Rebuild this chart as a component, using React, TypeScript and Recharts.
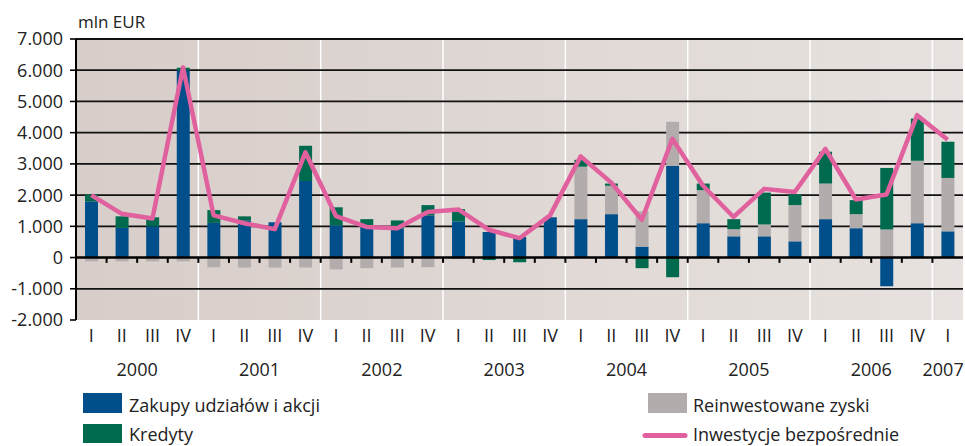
import React from 'react';
import { ComposedChart, Bar, Line, XAxis, YAxis, CartesianGrid, ReferenceLine } from 'recharts';

// quarters 2000 Q1 .. 2007 Q1
const years = ['2000', '2001', '2002', '2003', '2004', '2005', '2006', '2007'];
const quarterNames = ['I', 'II', 'III', 'IV'];
const yearCenters = [2, 6, 10, 14, 18, 22, 26, 28.35];

const zakupy = [
  1800, 950, 1000, 6000,
  1110, 1190, 1130, 2450,
  1030, 950, 920, 1350,
  1160, 820, 660, 1290,
  1230, 1390, 350, 2940,
  1100, 680, 680, 520,
  1230, 940, -920, 1100,
  840,
];
const reinwestowane = [
  -120, -120, -120, -120,
  -310, -320, -320, -320,
  -380, -340, -320, -310,
  -50, 0, 0, 0,
  1680, 910, 1130, 1410,
  1060, 230, 380, 1160,
  1140, 450, 900, 2000,
  1710,
];
const kredyty = [
  220, 370, 290, 80,
  410, 130, 0, 1130,
  580, 280, 270, 330,
  390, -80, -150, 0,
  220, 70, -340, -630,
  210, 320, 1020, 350,
  1020, 450, 1970, 1350,
  1160,
];
const inwestycje = [
  2000, 1400, 1250, 6090,
  1350, 1100, 910, 3370,
  1330, 980, 940, 1460,
  1540, 890, 620, 1350,
  3240, 2400, 1210, 3800,
  2300, 1300, 2200, 2100,
  3480, 1860, 2020, 4560,
  3770,
];

const yTicks = [-2000, -1000, 0, 1000, 2000, 3000, 4000, 5000, 6000, 7000];
const gridValues = [-1000, 1000, 2000, 3000, 4000, 5000, 6000, 7000];
const yearBounds = [4, 8, 12, 16, 20, 24, 28];
const quarterBounds = Array.from({ length: 28 }, (_, i) => i + 1);

const BLUE = '#004f8a';
const GREEN = '#006a4e';
const GREY = '#b2adac';
const PINK = '#e0619e';
const TEXT = '#222';
const FONT = '"Open Sans", sans-serif';

const data = zakupy.map((z, i) => ({
  key: `${years[Math.floor(i / 4)]}-${quarterNames[i % 4]}`,
  pos: i + 0.5,
  zakupy: z,
  reinwestowane: reinwestowane[i],
  kredyty: kredyty[i],
  inwestycje: inwestycje[i],
}));

const fmt = (v: number) => {
  const s = Math.abs(v).toString().replace(/\B(?=(\d{3})+(?!\d))/g, '.');
  return v < 0 ? `-${s}` : s;
};

const QuarterTick = ({ x, y, payload }: any) => (
  <text x={x} y={y + 22} textAnchor="middle" fontSize={18} fill={TEXT} fontFamily={FONT}>
    {String(payload.value).split('-')[1]}
  </text>
);

const YearTick = ({ x, y, payload }: any) => (
  <text x={x} y={y + 16} textAnchor="middle" fontSize={18} fill={TEXT} fontFamily={FONT}>
    {years[yearCenters.indexOf(payload.value)]}
  </text>
);

const Legend = () => (
  <svg width={965} height={446} style={{ position: 'absolute', left: 0, top: 0, pointerEvents: 'none' }}>
    <g fontFamily={FONT} fill={TEXT}>
      <text x={78} y={28} fontSize={17}>mln EUR</text>
      <rect x={83} y={393} width={39} height={20} fill={BLUE} />
      <text x={129} y={412} fontSize={18}>Zakupy udziałów i akcji</text>
      <rect x={83} y={424} width={39} height={19} fill={GREEN} />
      <text x={129} y={441} fontSize={18}>Kredyty</text>
      <rect x={648} y={393} width={39} height={20} fill={GREY} />
      <text x={693} y={412} fontSize={18}>Reinwestowane zyski</text>
      <line x1={645} y1={435.5} x2={685} y2={435.5} stroke={PINK} strokeWidth={5} strokeLinecap="round" />
      <text x={693} y={441} fontSize={18}>Inwestycje bezpośrednie</text>
    </g>
  </svg>
);

export default function App() {
  return (
    <div style={{ position: 'absolute', left: 0, top: 0, width: 965, height: 446, background: '#fff' }}>
      <ComposedChart
        width={965}
        height={446}
        data={data}
        stackOffset="sign"
        margin={{ top: 39, right: 2, left: 0, bottom: 46 }}
      >
        <defs>
          <linearGradient id="bg" x1="0" y1="0" x2="1" y2="0">
            <stop offset="0%" stopColor="#d7cdc9" />
            <stop offset="100%" stopColor="#e7e2df" />
          </linearGradient>
        </defs>
        <CartesianGrid
          xAxisId="year"
          fill="url(#bg)"
          fillOpacity={1}
          horizontal={false}
          verticalValues={yearBounds}
          stroke="#ffffff"
          strokeWidth={1.5}
        />
        <CartesianGrid
          xAxisId="year"
          vertical={false}
          horizontalValues={gridValues}
          stroke="#111"
          strokeWidth={1.8}
        />
        <XAxis
          xAxisId="quarter"
          dataKey="key"
          height={40}
          axisLine={false}
          tickLine={false}
          tickSize={0}
          tickMargin={0}
          interval={0}
          tick={<QuarterTick />}
        />
        <XAxis
          xAxisId="year"
          dataKey="pos"
          type="number"
          domain={[0, 29]}
          allowDataOverflow
          ticks={yearCenters}
          height={40}
          axisLine={false}
          tickLine={false}
          tickSize={0}
          tickMargin={0}
          interval={0}
          tick={<YearTick />}
        />
        <YAxis
          width={76}
          domain={[-2000, 7000]}
          ticks={yTicks}
          interval={0}
          tickFormatter={fmt}
          tick={{ fontSize: 18, fill: TEXT, fontFamily: FONT }}
          axisLine={{ stroke: '#000', strokeWidth: 2 }}
          tickLine={{ stroke: '#000', strokeWidth: 1.6 }}
          tickSize={6}
          tickMargin={7}
        />
        <Bar xAxisId="quarter" dataKey="zakupy" stackId="a" fill={BLUE} barSize={13} isAnimationActive={false} />
        <Bar xAxisId="quarter" dataKey="reinwestowane" stackId="a" fill={GREY} barSize={13} isAnimationActive={false} />
        <Bar xAxisId="quarter" dataKey="kredyty" stackId="a" fill={GREEN} barSize={13} isAnimationActive={false} />
        <ReferenceLine xAxisId="year" y={0} stroke="#000" strokeWidth={2.5} />
        {quarterBounds.map((b) => (
          <ReferenceLine
            key={b}
            xAxisId="year"
            segment={[{ x: b, y: 0 }, { x: b, y: -170 }]}
            stroke="#000"
            strokeWidth={2}
          />
        ))}
        <Line
          xAxisId="quarter"
          dataKey="inwestycje"
          type="linear"
          stroke={PINK}
          strokeWidth={4.5}
          strokeLinejoin="round"
          dot={false}
          activeDot={false}
          isAnimationActive={false}
        />
      </ComposedChart>
      <Legend />
    </div>
  );
}
